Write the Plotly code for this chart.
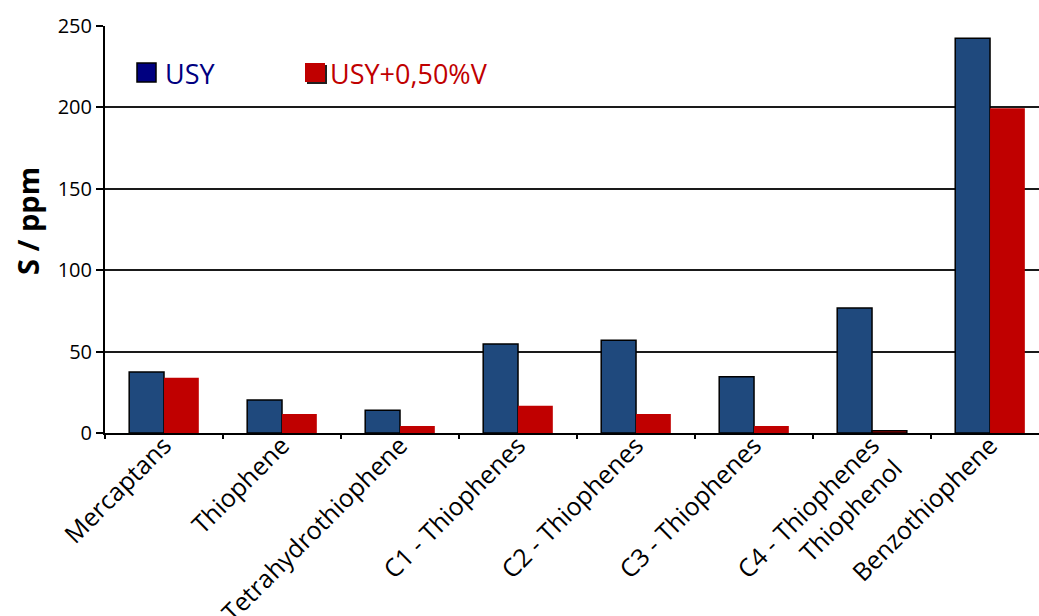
import plotly.graph_objects as go

# Sulfur species (ppm) in gasoline from the two catalysts
categories = [
    "Mercaptans",
    "Thiophene",
    "Tetrahydrothiophene",
    "C1 - Thiophenes",
    "C2 - Thiophenes",
    "C3 - Thiophenes",
    "C4 - Thiophenes<br>Thiophenol",
    "Benzothiophene",
]
usy = [37.4, 20.2, 14.0, 54.6, 57.0, 34.6, 76.8, 242.5]
usy_v = [34.0, 11.6, 4.3, 16.7, 11.7, 4.3, 1.4, 199.5]
series_names = ["USY", "USY+0,50%V"]
y_ticks = [0, 50, 100, 150, 200, 250]
y_title = "S / ppm"

W, H = 1039, 616
M_L, M_T, M_B, M_R = 105, 26, 183, 0
FONT = "Open Sans"

BAR_BLUE = "#1F497D"
BAR_RED = "#C00000"
LEG_NAVY = "#000080"


def px(x):
    return (x - M_L) / (W - M_L - M_R)


def py(y):
    return (H - M_B - y) / (H - M_B - M_T)


fig = go.Figure()
fig.add_trace(go.Bar(
    x=categories, y=usy, name=series_names[0],
    marker=dict(color=BAR_BLUE, line=dict(color="#000000", width=1.5)),
))
fig.add_trace(go.Bar(
    x=categories, y=usy_v, name=series_names[1],
    marker=dict(color=BAR_RED,
                line=dict(color=["#000000" if v < 2 else BAR_RED for v in usy_v],
                          width=[1.5 if v < 2 else 0 for v in usy_v])),
))

# hand-drawn legend at the top left of the plot area
shapes = [
    dict(type="rect", xref="paper", yref="paper",
         x0=px(137), x1=px(156), y0=py(82), y1=py(63),
         fillcolor=LEG_NAVY, line=dict(color="#000000", width=1.5)),
    dict(type="rect", xref="paper", yref="paper",
         x0=px(307), x1=px(327), y0=py(84), y1=py(65),
         fillcolor="#202020", line=dict(width=0)),
    dict(type="rect", xref="paper", yref="paper",
         x0=px(305), x1=px(325), y0=py(82), y1=py(63),
         fillcolor=BAR_RED, line=dict(width=0)),
]
annotations = [
    dict(text=series_names[0], xref="paper", yref="paper",
         x=px(163), y=py(73), xanchor="left", yanchor="middle",
         showarrow=False, font=dict(family=FONT, size=27, color=LEG_NAVY)),
    dict(text=series_names[1], xref="paper", yref="paper",
         x=px(328), y=py(73), xanchor="left", yanchor="middle",
         showarrow=False, font=dict(family=FONT, size=27, color=BAR_RED)),
    # y-axis title
    dict(text="<b>%s</b>" % y_title, xref="paper", yref="paper",
         x=px(27), y=py(221), xanchor="center", yanchor="middle", textangle=-90,
         showarrow=False, font=dict(family=FONT, size=29, color="#000000")),
]

fig.update_layout(
    width=W, height=H,
    margin=dict(l=M_L, r=M_R, t=M_T, b=M_B),
    paper_bgcolor="#FFFFFF", plot_bgcolor="#FFFFFF",
    barmode="group", bargap=0.41, bargroupgap=0,
    showlegend=False,
    shapes=shapes, annotations=annotations,
    font=dict(family=FONT, color="#000000"),
)
fig.update_xaxes(
    type="category", range=[-0.5, 7.415], automargin=False,
    tickangle=-45, tickfont=dict(family=FONT, size=25, color="#000000"),
    ticks="outside", tickson="boundaries", ticklen=4, tickwidth=1.5, tickcolor="#000000",
    ticklabelstandoff=-14,
    showline=True, linecolor="#000000", linewidth=2,
    showgrid=False, zeroline=False,
)
fig.update_yaxes(
    range=[0, 250], tickvals=y_ticks, automargin=False,
    tickfont=dict(family=FONT, size=20, color="#000000"),
    ticks="outside", ticklen=7, tickwidth=1.5, tickcolor="#000000",
    showline=True, linecolor="#000000", linewidth=2,
    showgrid=True, gridcolor="#1a1a1a", gridwidth=1.5, zeroline=False,
)

fig.write_html("out.html")
